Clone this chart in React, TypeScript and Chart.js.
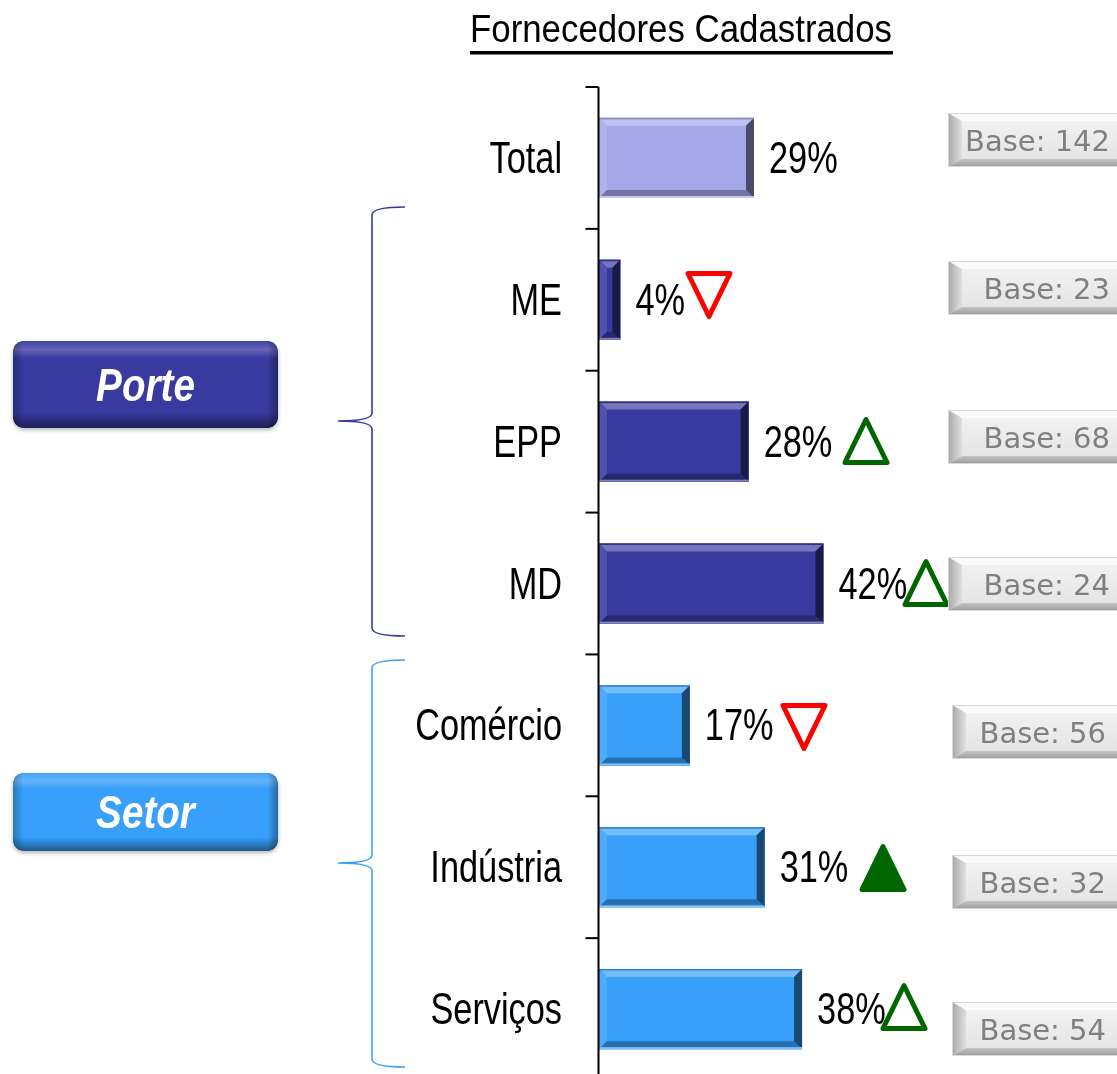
import React, { useEffect, useRef } from "react";
import { Chart, registerables } from "chart.js";

Chart.register(...registerables);

// ---------- data ----------
const categories = ["Total", "ME", "EPP", "MD", "Comércio", "Indústria", "Serviços"];
const values = [29, 4, 28, 42, 17, 31, 38];
const bases = [142, 23, 68, 24, 56, 32, 54];
const markers = ["", "down", "up", "up", "down", "upFilled", "up"];
const barColors = ["#A4A6E8", "#383A9F", "#383A9F", "#383A9F", "#38A0FA", "#38A0FA", "#38A0FA"];
const groupNames = ["Porte", "Setor"];
const groupRanges = [[1, 3], [4, 6]];
const groupColors = ["#383A9F", "#38A0FA"];
const titleText = "Fornecedores Cadastrados";

// ---------- layout (drawing only) ----------
const BOX_X = [948, 948, 948, 948, 952, 952, 952];
const BOX_Y = [113, 261, 410, 557, 705, 855, 1002];
const TRI_X = [0, 709, 866, 926, 804, 883, 904];
const TRI_Y = [0, 295, 441, 583, 727, 868, 1007];
const PILL_Y = [[341, 428], [773, 851]];
const BRACKET = [[207, 421, 636], [660, 863, 1067]];

function shade(hex: string, amt: number) {
  const n = parseInt(hex.slice(1), 16);
  let r = (n >> 16) & 255, g = (n >> 8) & 255, b = n & 255;
  if (amt >= 0) {
    r = r + (255 - r) * amt; g = g + (255 - g) * amt; b = b + (255 - b) * amt;
  } else {
    r = r * (1 + amt); g = g * (1 + amt); b = b * (1 + amt);
  }
  return `rgb(${Math.round(r)},${Math.round(g)},${Math.round(b)})`;
}

function scaledText(ctx: CanvasRenderingContext2D, text: string, x: number, y: number, font: string, sx: number, align: CanvasTextAlign, color: string) {
  ctx.save();
  ctx.font = font;
  ctx.fillStyle = color;
  ctx.textAlign = align;
  ctx.textBaseline = "alphabetic";
  ctx.translate(x, y);
  ctx.scale(sx, 1);
  ctx.fillText(text, 0, 0);
  ctx.restore();
}

function textWidth(ctx: CanvasRenderingContext2D, text: string, font: string, sx: number) {
  ctx.save();
  ctx.font = font;
  const w = ctx.measureText(text).width * sx;
  ctx.restore();
  return w;
}

function bevelRect(ctx: CanvasRenderingContext2D, l: number, t: number, r: number, b: number, color: string, s: number) {
  const poly = (pts: number[][], fill: string) => {
    ctx.beginPath();
    ctx.moveTo(pts[0][0], pts[0][1]);
    for (let i = 1; i < pts.length; i++) ctx.lineTo(pts[i][0], pts[i][1]);
    ctx.closePath();
    ctx.fillStyle = fill;
    ctx.fill();
  };
  poly([[l, t], [r, t], [r - s, t + s], [l + s, t + s]], shade(color, 0.3));
  poly([[l, t], [l + s, t + s], [l + s, b - s], [l, b]], shade(color, 0.12));
  poly([[l, b], [l + s, b - s], [r - s, b - s], [r, b]], shade(color, -0.3));
  poly([[r, t], [r, b], [r - s, b - s], [r - s, t + s]], shade(color, -0.55));
  ctx.fillStyle = shade(color, -0.2);
  ctx.fillRect(l, t, r - l, 1.5);
  ctx.fillStyle = shade(color, 0.35);
  ctx.fillRect(l, b - 2, r - l, 2);
}

function roundRectPath(ctx: CanvasRenderingContext2D, x: number, y: number, w: number, h: number, rad: number) {
  ctx.beginPath();
  ctx.moveTo(x + rad, y);
  ctx.lineTo(x + w - rad, y);
  ctx.quadraticCurveTo(x + w, y, x + w, y + rad);
  ctx.lineTo(x + w, y + h - rad);
  ctx.quadraticCurveTo(x + w, y + h, x + w - rad, y + h);
  ctx.lineTo(x + rad, y + h);
  ctx.quadraticCurveTo(x, y + h, x, y + h - rad);
  ctx.lineTo(x, y + rad);
  ctx.quadraticCurveTo(x, y, x + rad, y);
  ctx.closePath();
}

const LABEL_FONT = "44px 'Liberation Sans', Arial, sans-serif";
const LABEL_SX = 0.78;

const decorPlugin = {
  id: "decor",
  afterDatasetsDraw(chart: any) {
    const ctx: CanvasRenderingContext2D = chart.ctx;
    const meta = chart.getDatasetMeta(0);
    meta.data.forEach((el: any, i: number) => {
      const l = Math.min(el.base, el.x), r = Math.max(el.base, el.x);
      const t = el.y - el.height / 2, b = el.y + el.height / 2;
      bevelRect(ctx, l, t, r, b, barColors[i], Math.min(8, (r - l) / 2));
    });
  },
  afterDraw(chart: any) {
    const ctx: CanvasRenderingContext2D = chart.ctx;
    const area = chart.chartArea;
    const yScale = chart.scales.y;
    const meta = chart.getDatasetMeta(0);
    const axisX = area.left - 0.5;

    // title
    const tFont = "38px 'Liberation Sans', Arial, sans-serif";
    const tw0 = textWidth(ctx, titleText, tFont, 1);
    const tsx = 422 / tw0;
    scaledText(ctx, titleText, 681, 42, tFont, tsx, "center", "#000");
    ctx.fillStyle = "#000";
    ctx.fillRect(681 - 211, 51, 423, 3.5);

    // axis
    ctx.save();
    ctx.strokeStyle = "#000";
    ctx.lineWidth = 2;
    ctx.beginPath();
    ctx.moveTo(axisX, area.top);
    ctx.lineTo(axisX, area.bottom);
    ctx.stroke();
    const step = (yScale.getPixelForValue(1) - yScale.getPixelForValue(0));
    for (let i = 0; i < categories.length; i++) {
      const yy = yScale.getPixelForValue(i) - step / 2;
      ctx.beginPath();
      ctx.moveTo(axisX - 13, yy);
      ctx.lineTo(axisX, yy);
      ctx.stroke();
    }
    ctx.restore();

    // category labels & values
    categories.forEach((c, i) => {
      const cy = yScale.getPixelForValue(i);
      scaledText(ctx, c, 562, cy + 15, LABEL_FONT, LABEL_SX, "right", "#000");
      const el = meta.data[i];
      const vx = el.x + 15;
      scaledText(ctx, values[i] + "%", vx, cy + 15, LABEL_FONT, LABEL_SX, "left", "#000");
    });

    // markers
    markers.forEach((m, i) => {
      if (!m) return;
      const cx = TRI_X[i], cy = TRI_Y[i];
      const w = 42, h = 43;
      ctx.save();
      ctx.lineWidth = 5;
      ctx.lineJoin = "round";
      ctx.beginPath();
      if (m === "down") {
        ctx.moveTo(cx - w / 2, cy - h / 2);
        ctx.lineTo(cx + w / 2, cy - h / 2);
        ctx.lineTo(cx, cy + h / 2);
      } else {
        ctx.moveTo(cx, cy - h / 2);
        ctx.lineTo(cx + w / 2, cy + h / 2);
        ctx.lineTo(cx - w / 2, cy + h / 2);
      }
      ctx.closePath();
      const col = m === "down" ? "#FF0000" : "#006600";
      ctx.strokeStyle = col;
      if (m === "upFilled") {
        ctx.fillStyle = col;
        ctx.fill();
      }
      ctx.stroke();
      ctx.restore();
    });

    // base boxes
    bases.forEach((bv, i) => {
      const x = BOX_X[i], y = BOX_Y[i], w = 190, h = 54, s = 8;
      ctx.save();
      const g = ctx.createLinearGradient(0, y, 0, y + h);
      g.addColorStop(0, "#F4F4F4");
      g.addColorStop(1, "#E2E2E2");
      ctx.fillStyle = g;
      ctx.fillRect(x, y, w, h);
      ctx.fillStyle = "#FAFAFA";
      ctx.beginPath();
      ctx.moveTo(x, y); ctx.lineTo(x + w, y); ctx.lineTo(x + w - s, y + s); ctx.lineTo(x + s, y + s); ctx.closePath(); ctx.fill();
      const gl = ctx.createLinearGradient(x, 0, x + s + 6, 0);
      gl.addColorStop(0, "#A8A8A8");
      gl.addColorStop(1, "#E0E0E0");
      ctx.fillStyle = gl;
      ctx.beginPath();
      ctx.moveTo(x, y); ctx.lineTo(x + s + 6, y + s); ctx.lineTo(x + s + 6, y + h - s); ctx.lineTo(x, y + h); ctx.closePath(); ctx.fill();
      const gb = ctx.createLinearGradient(0, y + h - s, 0, y + h);
      gb.addColorStop(0, "#C4C4C4");
      gb.addColorStop(1, "#9C9C9C");
      ctx.fillStyle = gb;
      ctx.beginPath();
      ctx.moveTo(x, y + h); ctx.lineTo(x + s + 6, y + h - s); ctx.lineTo(x + w - s, y + h - s); ctx.lineTo(x + w, y + h); ctx.closePath(); ctx.fill();
      ctx.strokeStyle = "#D8D8D8";
      ctx.lineWidth = 1;
      ctx.strokeRect(x + 0.5, y + 0.5, w, h - 1);
      ctx.restore();
      const rx = i < 4 ? 1110 : 1106;
      scaledText(ctx, "Base: " + bv, rx, y + 38, "29px 'DejaVu Sans', Verdana, sans-serif", 1, "right", "#808080");
    });

    // brackets
    groupRanges.forEach((_, gi) => {
      const [top, mid, bot] = BRACKET[gi];
      const xv = 372, xr = 405, xt = 338, c = 8;
      ctx.save();
      ctx.strokeStyle = groupColors[gi];
      ctx.lineWidth = 1.6;
      ctx.beginPath();
      ctx.moveTo(xr, top);
      ctx.quadraticCurveTo(xv, top, xv, top + c);
      ctx.lineTo(xv, mid - c);
      ctx.quadraticCurveTo(xv, mid, xt, mid);
      ctx.quadraticCurveTo(xv, mid, xv, mid + c);
      ctx.lineTo(xv, bot - c);
      ctx.quadraticCurveTo(xv, bot, xr, bot);
      ctx.stroke();
      ctx.restore();
    });

    // pills
    groupNames.forEach((name, gi) => {
      const [y0, y1] = PILL_Y[gi];
      const x = 13, w = 265, h = y1 - y0, col = groupColors[gi];
      ctx.save();
      ctx.shadowColor = "rgba(0,0,0,0.3)";
      ctx.shadowBlur = 4;
      ctx.shadowOffsetY = 2;
      roundRectPath(ctx, x, y0, w, h, 13);
      ctx.fillStyle = shade(col, -0.4);
      ctx.fill();
      ctx.restore();
      ctx.save();
      roundRectPath(ctx, x, y0, w, h, 13);
      ctx.clip();
      const g = ctx.createLinearGradient(0, y0, 0, y1);
      g.addColorStop(0, shade(col, 0.05));
      g.addColorStop(0.1, shade(col, 0.22));
      g.addColorStop(0.2, col);
      g.addColorStop(0.82, col);
      g.addColorStop(0.92, shade(col, -0.25));
      g.addColorStop(1, shade(col, -0.45));
      ctx.fillStyle = g;
      ctx.fillRect(x, y0, w, h);
      const gh = ctx.createLinearGradient(x, 0, x + w, 0);
      gh.addColorStop(0, "rgba(0,0,0,0.25)");
      gh.addColorStop(0.04, "rgba(0,0,0,0)");
      gh.addColorStop(0.96, "rgba(0,0,0,0)");
      gh.addColorStop(1, "rgba(0,0,0,0.35)");
      ctx.fillStyle = gh;
      ctx.fillRect(x, y0, w, h);
      ctx.restore();
      scaledText(ctx, name, x + w / 2, (y0 + y1) / 2 + 16, "italic bold 46px 'Liberation Sans', Arial, sans-serif", 0.84, "center", "#FFFFFF");
    });
  },
};

export default function App() {
  const ref = useRef<HTMLCanvasElement | null>(null);
  useEffect(() => {
    if (!ref.current) return;
    const chart = new Chart(ref.current, {
      type: "bar",
      data: {
        labels: categories,
        datasets: [
          {
            data: values,
            backgroundColor: barColors,
            borderWidth: 0,
            barPercentage: 0.565,
            categoryPercentage: 1,
          },
        ],
      },
      options: {
        indexAxis: "y",
        responsive: false,
        animation: false,
        devicePixelRatio: 1,
        layout: { padding: { left: 599, right: 37, top: 87, bottom: 10 } },
        plugins: { legend: { display: false }, tooltip: { enabled: false }, title: { display: false } },
        scales: {
          x: { display: false, min: 0, max: 90 },
          y: { display: false },
        },
      },
      plugins: [decorPlugin],
    } as any);
    return () => chart.destroy();
  }, []);
  return (
    <div style={{ position: "fixed", left: 0, top: 0, width: 1117, height: 1074, overflow: "hidden", background: "#fff" }}>
      <canvas ref={ref} width={1117} height={1090} style={{ display: "block" }} />
    </div>
  );
}
